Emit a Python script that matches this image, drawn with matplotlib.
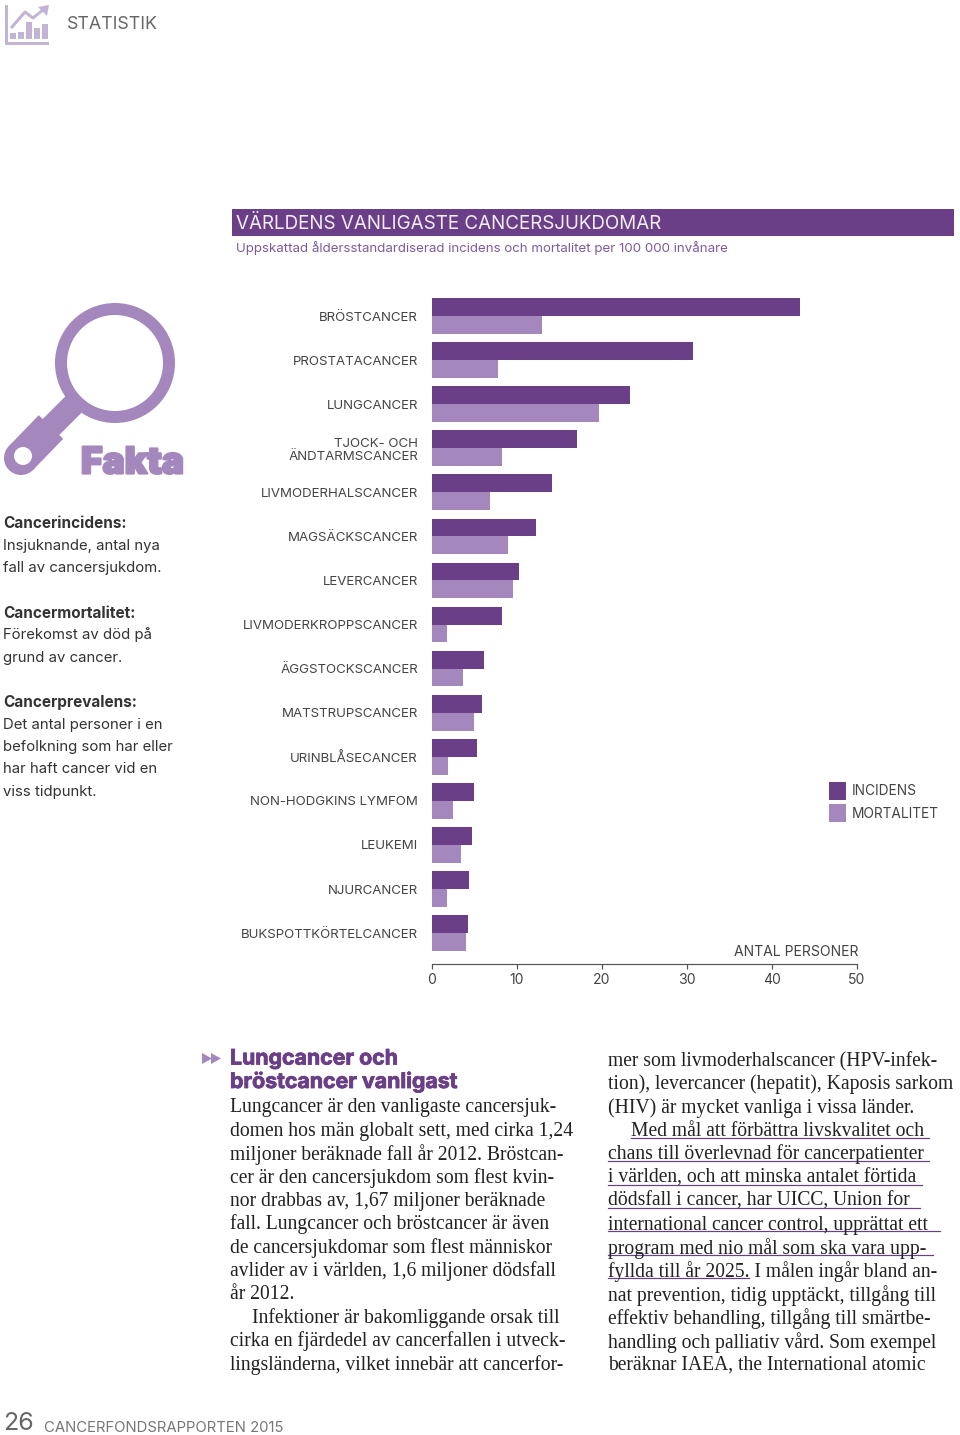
import matplotlib
matplotlib.use("Agg")
from matplotlib import pyplot as plt
from matplotlib import patheffects
from matplotlib.patches import Circle, Rectangle, Polygon, Wedge

W, H = 960, 1435
PX = 0.72  # one pixel in points at dpi 100
DARK = "#6b3f87"
LIGHT = "#a487bc"
ICON = "#c3b4d6"
SANS = ["Inter", "DejaVu Sans"]
SERIF = ["Liberation Serif", "DejaVu Serif"]

categories = ["BRÖSTCANCER", "PROSTATACANCER", "LUNGCANCER", "TJOCK- OCH\nÄNDTARMSCANCER",
              "LIVMODERHALSCANCER", "MAGSÄCKSCANCER", "LEVERCANCER", "LIVMODERKROPPSCANCER",
              "ÄGGSTOCKSCANCER", "MATSTRUPSCANCER", "URINBLÅSECANCER", "NON-HODGKINS LYMFOM",
              "LEUKEMI", "NJURCANCER", "BUKSPOTTKÖRTELCANCER"]
incidens = [43.3, 30.8, 23.3, 17.1, 14.1, 12.2, 10.2, 8.3, 6.1, 5.9, 5.3, 5.0, 4.7, 4.4, 4.2]
mortalitet = [12.9, 7.8, 19.7, 8.3, 6.8, 8.9, 9.5, 1.8, 3.7, 5.0, 1.9, 2.5, 3.4, 1.8, 4.0]
xticks = [0, 10, 20, 30, 40, 50]

facts = [(522, "Cancerincidens:", True), (545, "Insjuknande, antal nya", False), (567, "fall av cancersjukdom.", False),
         (612, "Cancermortalitet:", True), (634, "Förekomst av död på", False), (657, "grund av cancer.", False),
         (702, "Cancerprevalens:", True), (724, "Det antal personer i en", False), (746, "befolkning som har eller", False),
         (768, "har haft cancer vid en", False), (791, "viss tidpunkt.", False)]

left_col = [(230, 1106, "Lungcancer är den vanligaste cancersjuk-"),
            (230, 1130, "domen hos män globalt sett, med cirka 1,24"),
            (230, 1153, "miljoner beräknade fall år 2012. Bröstcan-"),
            (230, 1177, "cer är den cancersjukdom som flest kvin-"),
            (230, 1200, "nor drabbas av, 1,67 miljoner beräknade"),
            (230, 1223, "fall. Lungcancer och bröstcancer är även"),
            (230, 1247, "de cancersjukdomar som flest människor"),
            (230, 1270, "avlider av i världen, 1,6 miljoner dödsfall"),
            (230, 1293, "år 2012."),
            (252, 1317, "Infektioner är bakomliggande orsak till"),
            (230, 1340, "cirka en fjärdedel av cancerfallen i utveck-"),
            (230, 1364, "lingsländerna, vilket innebär att cancerfor-")]
right_col = [(608, 1060, "mer som livmoderhalscancer (HPV-infek-"),
             (608, 1083, "tion), levercancer (hepatit), Kaposis sarkom"),
             (608, 1107, "(HIV) är mycket vanliga i vissa länder."),
             (631, 1130, "Med mål att förbättra livskvalitet och"),
             (608, 1153, "chans till överlevnad för cancerpatienter"),
             (608, 1177, "i världen, och att minska antalet förtida"),
             (608, 1200, "dödsfall i cancer, har UICC, Union for"),
             (608, 1224, "international cancer control, upprättat ett"),
             (608, 1247, "program med nio mål som ska vara upp-"),
             (608, 1270, "fyllda till år 2025. I målen ingår bland an-"),
             (608, 1294, "nat prevention, tidig upptäckt, tillgång till"),
             (608, 1317, "effektiv behandling, tillgång till smärtbe-"),
             (608, 1341, "handling och palliativ vård. Som exempel"),
             (608, 1364, "beräknar IAEA, the International atomic")]
underlines = [(631, 929, 1138), (608, 929, 1161), (608, 922, 1185), (608, 920, 1208),
              (608, 940, 1231), (608, 933, 1255), (608, 749, 1278)]


def page_text(ax, x, y, s, size, color="#333333", family=SANS, weight="normal", ha="left"):
    # va center sits a bit high for these fonts
    return ax.text(x, y + 1.5, s, fontsize=size * PX, color=color, family=family, weight=weight, ha=ha, va="center")


def draw_page(ax):
    # top icon
    ax.add_patch(Rectangle((5, 5), 3, 40, color=ICON, lw=0))
    ax.add_patch(Rectangle((5, 42), 44, 3, color=ICON, lw=0))
    for x0, top in [(10, 33), (18, 32), (26, 22), (34, 28), (42, 24)]:
        ax.add_patch(Rectangle((x0, top), 6, 39 - top, color=ICON, lw=0))
    ax.plot([12, 25, 33, 44], [27, 12, 18, 9], color=ICON, lw=3 * PX)
    ax.add_patch(Polygon([(49, 5), (38, 7), (47, 16)], color=ICON, lw=0))
    page_text(ax, 67, 23, "STATISTIK", 17.8, color="#666666")

    # title band
    ax.add_patch(Rectangle((232, 209), 722, 27, color=DARK, lw=0))
    page_text(ax, 236, 222, "VÄRLDENS VANLIGASTE CANCERSJUKDOMAR", 18.8, color="#f2eef6")
    page_text(ax, 236, 246.5, "Uppskattad åldersstandardiserad incidens och mortalitet per 100 000 invånare", 13.28, color="#7d5aa0")

    # magnifier
    ax.add_patch(Wedge((115, 363), 60, 0, 360, width=12, color=LIGHT, lw=0))
    ax.plot([80, 50], [398, 428], color=LIGHT, lw=23 * PX, solid_capstyle="butt")
    ax.plot([51, 21], [427, 458], color=LIGHT, lw=34 * PX, solid_capstyle="butt")
    ax.add_patch(Circle((21, 458), 17, color=LIGHT, lw=0))
    ax.add_patch(Circle((23, 456), 9, color="white", lw=0, zorder=3))
    fakta = page_text(ax, 81, 462, "Fakta", 37, color=LIGHT, weight="black")
    fakta.set_path_effects([patheffects.withStroke(linewidth=1.6, foreground=LIGHT)])

    for y, s, bold in facts:
        page_text(ax, 3, y - 0.5, s, 15.3 if bold else 14.9, weight="bold" if bold else "normal")

    # article
    ax.add_patch(Polygon([(202, 1053), (212, 1058.5), (202, 1064)], color=LIGHT, lw=0))
    ax.add_patch(Polygon([(211, 1053), (221, 1058.5), (211, 1064)], color=LIGHT, lw=0))
    for y, s in [(1057, "Lungcancer och"), (1080, "bröstcancer vanligast")]:
        head = page_text(ax, 230, y, s, 21.3, color=DARK, weight="bold")
        head.set_path_effects([patheffects.withStroke(linewidth=0.6, foreground=DARK)])
    for x, y, s in left_col + right_col:
        page_text(ax, x, y, s, 19.7, color="#222222", family=SERIF)
    for x0, x1, y in underlines:
        ax.plot([x0, x1], [y, y], color=DARK, lw=1.2 * PX)

    # footer
    page_text(ax, 3, 1422, "26", 25, color="#666666")
    page_text(ax, 44, 1426, "CANCERFONDSRAPPORTEN 2015", 14.9, color="#777777")


def draw_chart(ax):
    height = 0.405
    ypos = list(range(len(categories)))
    ax.barh([y - height / 2 for y in ypos], incidens, height=height, color=DARK, label="INCIDENS")
    ax.barh([y + height / 2 for y in ypos], mortalitet, height=height, color=LIGHT, label="MORTALITET")
    ax.set_xlim(0, 50)
    ax.set_ylim(14.69, -0.59)
    ax.set_yticks(ypos, categories, fontsize=13.3 * PX, color="#444444", family=SANS, linespacing=1.15)
    ax.set_xticks(xticks, [str(t) for t in xticks], fontsize=14 * PX, color="#444444", family=SANS)
    ax.tick_params(axis="y", length=0, pad=14 * PX)
    ax.tick_params(axis="x", length=5 * PX, width=1.2 * PX, color="#555555", pad=4.5 * PX)
    for side in ["top", "left", "right"]:
        ax.spines[side].set_visible(False)
    ax.spines["bottom"].set_color("#555555")
    ax.spines["bottom"].set_linewidth(1.2 * PX)
    ax.patch.set_alpha(0)
    ax.legend(loc="center left", bbox_to_anchor=(817 / W, 1 - 802 / H), bbox_transform=ax.figure.transFigure,
              frameon=False, prop={"family": SANS, "size": 13.7 * PX}, labelcolor="#444444",
              handlelength=1.25, handleheight=1.65, handletextpad=0.4, labelspacing=0.35)


def main():
    fig = plt.figure(figsize=(W / 100, H / 100), dpi=100)
    page = fig.add_axes([0, 0, 1, 1])
    page.set_xlim(0, W)
    page.set_ylim(H, 0)
    page.axis("off")
    draw_page(page)
    page_text(page, 858, 950, "ANTAL PERSONER", 14, color="#444444", ha="right")

    chart = fig.add_axes([432 / W, 1 - 963.5 / H, (856.5 - 432) / W, (963.5 - 290) / H])
    draw_chart(chart)
    fig.savefig("out.png", dpi=100)


if __name__ == "__main__":
    main()
